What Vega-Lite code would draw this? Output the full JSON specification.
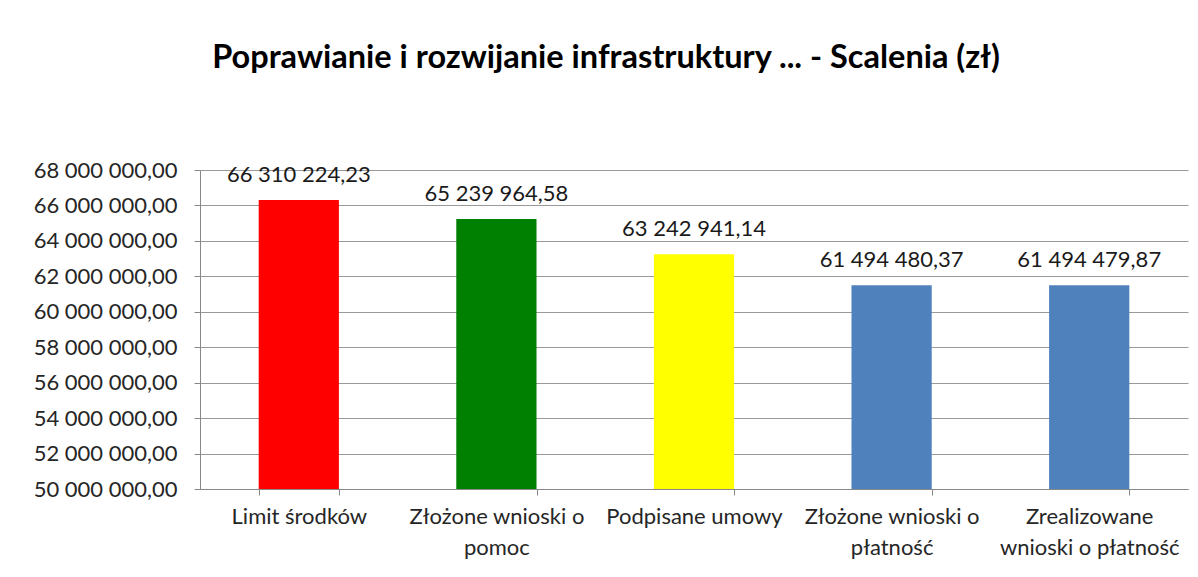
{
  "$schema": "https://vega.github.io/schema/vega-lite/v6.json",
  "width": 988,
  "height": 319,
  "autosize": {"type": "none"},
  "padding": {"left": 200, "top": 170, "right": 10, "bottom": 88},
  "background": "white",
  "config": {
    "locale": {"number": {"decimal": ",", "thousands": " ", "grouping": [3], "currency": ["", " zł"]}},
    "view": {"stroke": null},
    "font": "Lato"
  },
  "title": {
    "text": "Poprawianie i rozwijanie infrastruktury ... - Scalenia (zł)",
    "font": "Lato",
    "fontSize": 32.5,
    "fontWeight": "bold",
    "color": "#000000",
    "anchor": "middle",
    "dx": -88,
    "offset": 85
  },
  "data": {
    "values": [
      {"kategoria": "Limit środków", "wartosc": 66310224.23},
      {"kategoria": "Złożone wnioski o pomoc", "wartosc": 65239964.58},
      {"kategoria": "Podpisane umowy", "wartosc": 63242941.14},
      {"kategoria": "Złożone wnioski o płatność", "wartosc": 61494480.37},
      {"kategoria": "Zrealizowane wnioski o płatność", "wartosc": 61494479.87}
    ]
  },
  "encoding": {
    "x": {
      "field": "kategoria",
      "type": "nominal",
      "sort": null,
      "scale": {"paddingInner": 0.594, "paddingOuter": 0.297},
      "axis": {
        "title": null,
        "labelAngle": 0,
        "labelFont": "Lato",
        "labelFontSize": 22,
        "labelColor": "#262626",
        "labelLineHeight": 31,
        "labelPadding": 11,
        "labelLimit": 0,
        "tickBand": "extent",
        "tickSize": 6,
        "tickColor": "#888888",
        "domainColor": "#888888",
        "labelExpr": "datum.value == 'Złożone wnioski o pomoc' ? ['Złożone wnioski o', 'pomoc'] : datum.value == 'Złożone wnioski o płatność' ? ['Złożone wnioski o', 'płatność'] : datum.value == 'Zrealizowane wnioski o płatność' ? ['Zrealizowane', 'wnioski o płatność'] : datum.value"
      }
    },
    "y": {
      "field": "wartosc",
      "type": "quantitative",
      "scale": {"domain": [50000000, 68000000], "zero": false, "nice": false},
      "axis": {
        "title": null,
        "values": [50000000, 52000000, 54000000, 56000000, 58000000, 60000000, 62000000, 64000000, 66000000, 68000000],
        "format": ",.2f",
        "labelFont": "Lato",
        "labelFontSize": 22,
        "labelColor": "#262626",
        "labelPadding": 17,
        "tickSize": 6,
        "tickColor": "#888888",
        "domainColor": "#888888",
        "grid": true,
        "gridColor": "#999999",
        "gridWidth": 1
      }
    }
  },
  "layer": [
    {
      "mark": {"type": "bar", "clip": true},
      "encoding": {
        "color": {
          "field": "kategoria",
          "type": "nominal",
          "sort": null,
          "scale": {
            "domain": ["Limit środków", "Złożone wnioski o pomoc", "Podpisane umowy", "Złożone wnioski o płatność", "Zrealizowane wnioski o płatność"],
            "range": ["#FF0000", "#008000", "#FFFF00", "#4F81BD", "#4F81BD"]
          },
          "legend": null
        }
      }
    },
    {
      "mark": {"type": "text", "baseline": "middle", "dy": -25, "font": "Lato", "fontSize": 22, "color": "#1a1a1a"},
      "encoding": {
        "text": {"field": "wartosc", "type": "quantitative", "format": ",.2f"}
      }
    }
  ]
}
